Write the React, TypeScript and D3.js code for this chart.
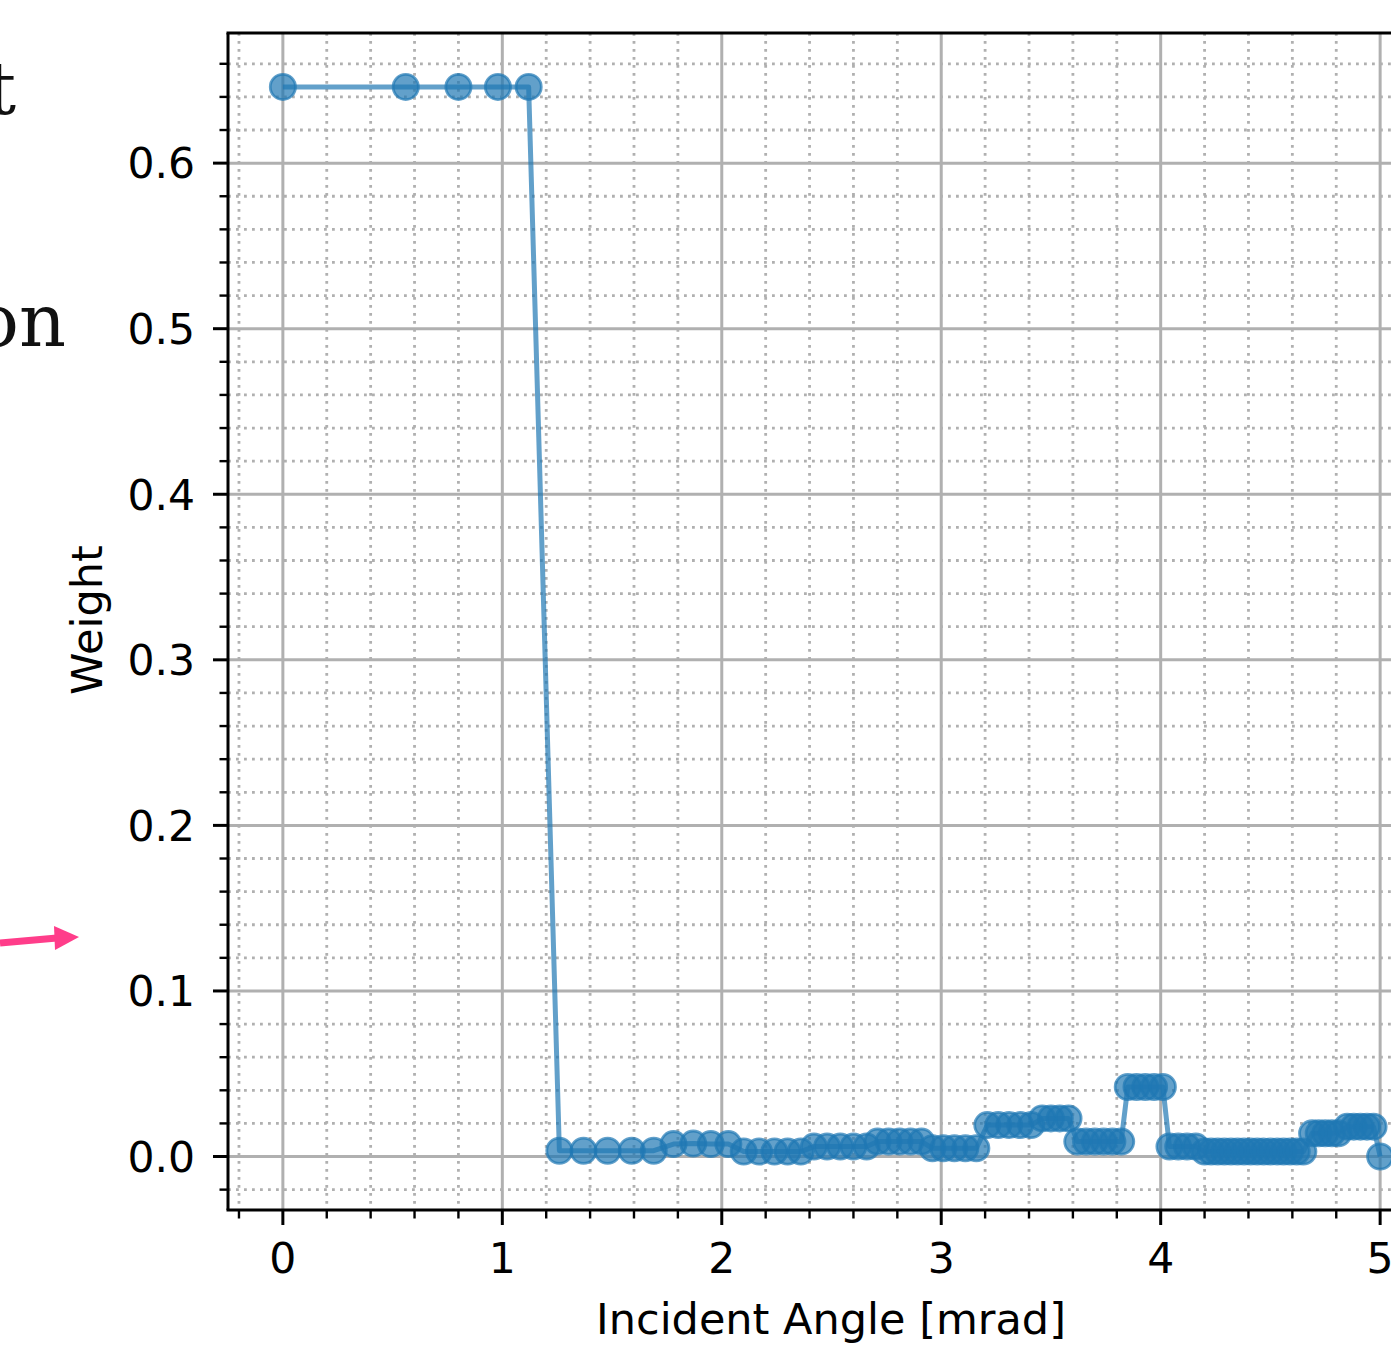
import React from "react";
import * as d3 from "d3";

const angleX: number[] = [
  0, 0.56, 0.8, 0.98, 1.12,
  1.26, 1.37, 1.48, 1.59, 1.69,
  1.78, 1.87, 1.95, 2.03,
  2.1, 2.17, 2.24, 2.3, 2.36,
  2.42, 2.48, 2.54, 2.6, 2.66,
  2.71, 2.76, 2.81, 2.86, 2.91,
  2.96, 3.01, 3.06, 3.11, 3.16,
  3.21, 3.26, 3.31, 3.36, 3.41,
  3.46, 3.5, 3.54, 3.58,
  3.62, 3.66, 3.7, 3.74, 3.78, 3.82,
  3.85, 3.89, 3.93, 3.97, 4.01,
  4.04, 4.08, 4.12, 4.16,
  4.2, 4.23, 4.26, 4.29, 4.32, 4.35, 4.38, 4.41, 4.44, 4.47, 4.5, 4.53, 4.56, 4.59, 4.62, 4.65,
  4.69, 4.72, 4.75, 4.78, 4.81,
  4.85, 4.88, 4.91, 4.94, 4.97,
  5.0,
];

const weightY: number[] = [
  0.646, 0.646, 0.646, 0.646, 0.646,
  0.0035, 0.0035, 0.0035, 0.0035, 0.0035,
  0.0075, 0.0078, 0.0075, 0.0075,
  0.003, 0.003, 0.003, 0.003, 0.003,
  0.006, 0.006, 0.006, 0.006, 0.006,
  0.009, 0.009, 0.009, 0.009, 0.009,
  0.005, 0.005, 0.005, 0.005, 0.005,
  0.019, 0.019, 0.019, 0.019, 0.019,
  0.023, 0.023, 0.023, 0.023,
  0.009, 0.009, 0.009, 0.009, 0.009, 0.009,
  0.042, 0.042, 0.042, 0.042, 0.042,
  0.006, 0.006, 0.006, 0.006,
  0.003, 0.003, 0.003, 0.003, 0.003, 0.003, 0.003, 0.003, 0.003, 0.003, 0.003, 0.003, 0.003, 0.003, 0.003, 0.003,
  0.014, 0.014, 0.014, 0.014, 0.014,
  0.018, 0.018, 0.018, 0.018, 0.018,
  0.0,
];

const xMajorTicks: number[] = [0, 1, 2, 3, 4, 5];
const yMajorTicks: number[] = [0, 0.1, 0.2, 0.3, 0.4, 0.5, 0.6];

const W = 1391;
const H = 1348;
const left = 228;
const top = 33;
const bottom = 1210;
const right = 1435;

export default function App() {
  const x = d3.scaleLinear().domain([-0.25, 5.25]).range([left, right]);
  const y = d3.scaleLinear().domain([-0.0323, 0.6786]).range([bottom, top]);

  const xMinor = d3.range(-0.2, 5.21, 0.2).filter(
    (v) => !xMajorTicks.some((m) => Math.abs(m - v) < 1e-6)
  );
  const yMinor = d3.range(-0.02, 0.6701, 0.02).filter(
    (v) => !yMajorTicks.some((m) => Math.abs(m - v) < 1e-6)
  );

  const pts = angleX.map((a, i) => [a, weightY[i]] as [number, number]);
  const line = d3
    .line<[number, number]>()
    .x((d) => x(d[0]))
    .y((d) => y(d[1]));

  const blue = "#1f77b4";
  const grid = "#b0b0b0";

  return (
    <svg
      width={W}
      height={H}
      style={{ position: "absolute", left: 0, top: 0, background: "#fff" }}
      fontFamily="DejaVu Sans"
    >
      <defs>
        <clipPath id="plotClip">
          <rect x={left} y={top} width={right - left} height={bottom - top} />
        </clipPath>
      </defs>
      <rect x={0} y={0} width={W} height={H} fill="#fff" />

      {/* side annotations */}
      <text x={16} y={114} textAnchor="end" fontFamily="DejaVu Serif" fontSize={73} fill="#111">
        t
      </text>
      <text x={66} y={346} textAnchor="end" fontFamily="DejaVu Serif" fontSize={73} fill="#111">
        on
      </text>
      <path d="M0,943 L57,938" stroke="#ff3d8a" strokeWidth={7} fill="none" />
      <path d="M54,926 L79,937 L55,950 Z" fill="#ff3d8a" />

      <g clipPath="url(#plotClip)">
        {/* minor grid */}
        {xMinor.map((v) => (
          <line
            key={"xm" + v}
            x1={x(v)}
            x2={x(v)}
            y1={top}
            y2={bottom}
            stroke={grid}
            strokeWidth={2.8}
            strokeDasharray="2.8 5.2"
          />
        ))}
        {yMinor.map((v) => (
          <line
            key={"ym" + v}
            x1={left}
            x2={right}
            y1={y(v)}
            y2={y(v)}
            stroke={grid}
            strokeWidth={2.8}
            strokeDasharray="2.8 5.2"
          />
        ))}
        {/* major grid */}
        {xMajorTicks.map((v) => (
          <line key={"xM" + v} x1={x(v)} x2={x(v)} y1={top} y2={bottom} stroke={grid} strokeWidth={3} />
        ))}
        {yMajorTicks.map((v) => (
          <line key={"yM" + v} x1={left} x2={right} y1={y(v)} y2={y(v)} stroke={grid} strokeWidth={3} />
        ))}

        {/* data line */}
        <path d={line(pts) || ""} fill="none" stroke={blue} strokeOpacity={0.7} strokeWidth={5} strokeLinejoin="round" />
        {pts.map((d, i) => (
          <circle
            key={i}
            cx={x(d[0])}
            cy={y(d[1])}
            r={12.6}
            fill={blue}
            fillOpacity={0.7}
            stroke={blue}
            strokeOpacity={0.7}
            strokeWidth={2.8}
          />
        ))}
      </g>

      {/* spines */}
      <line x1={left} x2={left} y1={top} y2={bottom} stroke="#000" strokeWidth={3} />
      <line x1={left - 1.5} x2={right} y1={top} y2={top} stroke="#000" strokeWidth={3} />
      <line x1={left - 1.5} x2={right} y1={bottom} y2={bottom} stroke="#000" strokeWidth={3} />

      {/* x ticks */}
      {xMinor.map((v) => (
        <line key={"xt" + v} x1={x(v)} x2={x(v)} y1={bottom} y2={bottom + 8.5} stroke="#000" strokeWidth={2.4} />
      ))}
      {xMajorTicks.map((v) => (
        <g key={"xT" + v}>
          <line x1={x(v)} x2={x(v)} y1={bottom} y2={bottom + 15} stroke="#000" strokeWidth={3} />
          <text x={x(v)} y={1273} textAnchor="middle" fontSize={42.5} fill="#000">
            {String(v)}
          </text>
        </g>
      ))}

      {/* y ticks */}
      {yMinor.map((v) => (
        <line key={"yt" + v} x1={left - 8.5} x2={left} y1={y(v)} y2={y(v)} stroke="#000" strokeWidth={2.4} />
      ))}
      {yMajorTicks.map((v) => (
        <g key={"yT" + v}>
          <line x1={left - 15} x2={left} y1={y(v)} y2={y(v)} stroke="#000" strokeWidth={3} />
          <text x={195} y={y(v)} dy="0.36em" textAnchor="end" fontSize={42.5} fill="#000">
            {v.toFixed(1)}
          </text>
        </g>
      ))}

      {/* axis labels */}
      <text x={831} y={1334} textAnchor="middle" fontSize={43} fill="#000">
        Incident Angle [mrad]
      </text>
      <text
        transform={`translate(102, 620) rotate(-90)`}
        textAnchor="middle"
        fontSize={43}
        fill="#000"
      >
        Weight
      </text>
    </svg>
  );
}
